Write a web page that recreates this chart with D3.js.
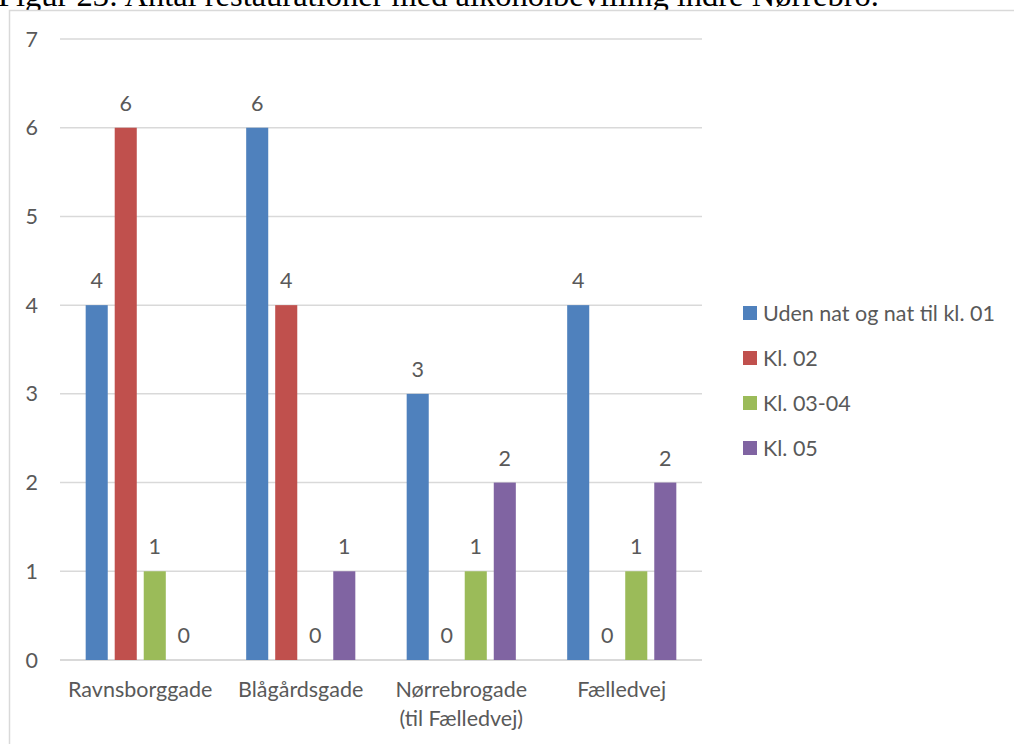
<!DOCTYPE html>
<html lang="da">
<head>
    <meta charset="UTF-8">
    <title>Figur 23</title>
    <script src="https://d3js.org/d3.v7.min.js"></script>
    <style>
        body { margin: 0; background: #fff; }
        svg text { font-family: Lato, "Liberation Sans", sans-serif; fill: #595959; }
        .title { font-family: "Liberation Serif", "Times New Roman", serif; fill: #000; }
    </style>
</head>
<body>
<svg width="1014" height="744"></svg>

<script>
    // data
    var categories = ["Ravnsborggade", "Blågårdsgade", "Nørrebrogade\n(til Fælledvej)", "Fælledvej"];
    var seriesNames = ["Uden nat og nat til kl. 01", "Kl. 02", "Kl. 03-04", "Kl. 05"];
    var udenNat = [4, 6, 3, 4];
    var kl02 = [6, 4, 0, 0];
    var kl0304 = [1, 0, 1, 1];
    var kl05 = [0, 1, 2, 2];
    var yTicks = [0, 1, 2, 3, 4, 5, 6, 7];
    var colors = ["#4F81BD", "#C0504D", "#9BBB59", "#8064A2"];

    var seriesValues = [udenNat, kl02, kl0304, kl05];
    var fs = "21.5px";

    var svg = d3.select("svg");

    // caption above the chart frame, cut off by the top edge as in the source
    svg.append("text")
        .attr("class", "title")
        .attr("x", -2)
        .attr("y", 6)
        .attr("font-size", "32.5px")
        .text("Figur 23: Antal restaurationer med alkoholbevilling indre Nørrebro.");

    // chart frame
    svg.append("rect")
        .attr("x", 9.5).attr("y", 10.5)
        .attr("width", 1100).attr("height", 800)
        .attr("fill", "#fff")
        .attr("stroke", "#d9d9d9")
        .attr("stroke-width", 1.5);

    var x0 = d3.scaleBand()
        .domain(categories)
        .range([60, 702])
        .paddingInner(0.32)
        .paddingOuter(0.16);

    var x1 = d3.scaleBand()
        .domain(d3.range(seriesNames.length))
        .range([0, x0.bandwidth()])
        .paddingInner(0.24);

    var y = d3.scaleLinear().domain([0, 7]).range([660, 39]);

    // gridlines
    svg.append("g")
        .selectAll("line")
        .data(yTicks)
        .enter().append("line")
        .attr("x1", 60).attr("x2", 702)
        .attr("y1", function(d) { return y(d); })
        .attr("y2", function(d) { return y(d); })
        .attr("stroke", "#d9d9d9")
        .attr("stroke-width", function(d) { return d === 0 ? 2 : 1.5; });

    // y tick labels
    svg.append("g")
        .selectAll("text")
        .data(yTicks)
        .enter().append("text")
        .attr("x", 38)
        .attr("y", function(d) { return y(d) + 7.5; })
        .attr("text-anchor", "end")
        .attr("font-size", fs)
        .text(function(d) { return d; });

    // bars
    var groups = svg.append("g")
        .selectAll("g")
        .data(seriesValues)
        .enter().append("g")
        .attr("fill", function(d, i) { return colors[i]; });

    groups.each(function(vals, si) {
        var g = d3.select(this);
        g.selectAll("rect")
            .data(vals)
            .enter().append("rect")
            .attr("x", function(d, ci) { return x0(categories[ci]) + x1(si); })
            .attr("y", function(d) { return y(d); })
            .attr("width", x1.bandwidth())
            .attr("height", function(d) { return y(0) - y(d); });

        g.selectAll("text")
            .data(vals)
            .enter().append("text")
            .attr("x", function(d, ci) { return x0(categories[ci]) + x1(si) + x1.bandwidth() / 2; })
            .attr("y", function(d) { return y(d) - 17; })
            .attr("text-anchor", "middle")
            .attr("font-size", fs)
            .text(function(d) { return d; });
    });

    // category labels
    var catLabels = svg.append("g")
        .selectAll("text")
        .data(categories)
        .enter().append("text")
        .attr("x", function(d) { return x0(d) + x0.bandwidth() / 2; })
        .attr("y", 697)
        .attr("text-anchor", "middle")
        .attr("font-size", fs);

    catLabels.each(function(d) {
        var t = d3.select(this);
        d.split("\n").forEach(function(line, i) {
            t.append("tspan")
                .attr("x", x0(d) + x0.bandwidth() / 2)
                .attr("dy", i === 0 ? 0 : 29)
                .text(line);
        });
    });

    // legend
    var legend = svg.append("g")
        .selectAll("g")
        .data(seriesNames)
        .enter().append("g")
        .attr("transform", function(d, i) { return "translate(743," + (313 + i * 45) + ")"; });

    legend.append("rect")
        .attr("x", 0).attr("y", -7)
        .attr("width", 14).attr("height", 14)
        .attr("fill", function(d, i) { return colors[i]; });

    legend.append("text")
        .attr("x", 20)
        .attr("y", 8)
        .attr("font-size", fs)
        .text(function(d) { return d; });
</script>
</body>
</html>
